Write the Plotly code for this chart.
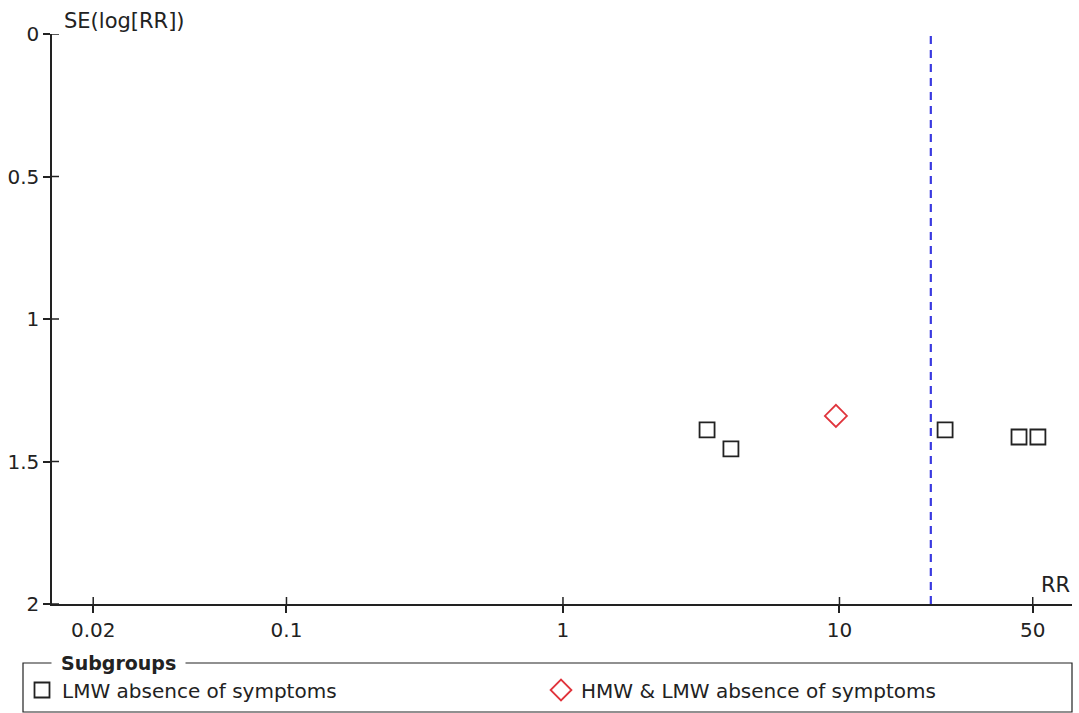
import plotly.graph_objects as go

# Funnel plot data: risk ratios and standard errors of log(RR)
lmw_rr = [3.32, 4.05, 24.1, 44.6, 52.2]
lmw_se = [1.389, 1.456, 1.389, 1.414, 1.414]
hmw_rr = [9.71]
hmw_se = [1.34]
pooled_rr = 21.4

x_ticks = [0.02, 0.1, 1, 10, 50]
x_tick_text = ["0.02", "0.1", "1", "10", "50"]
y_ticks = [0, 0.5, 1, 1.5, 2]
y_tick_text = ["0", "0.5", "1", "1.5", "2"]

FONT = "DejaVu Sans"
W, H = 1079, 713
ML, MR, MT, MB = 52, 7, 34, 109
PW, PH = W - ML - MR, H - MT - MB
TICK = 7

fig = go.Figure()

fig.add_trace(go.Scatter(
    x=lmw_rr, y=lmw_se, mode="markers", name="LMW absence of symptoms",
    marker=dict(symbol="square-open", size=15, color="#222222",
                line=dict(width=1.8, color="#222222")),
))
fig.add_trace(go.Scatter(
    x=hmw_rr, y=hmw_se, mode="markers", name="HMW & LMW absence of symptoms",
    marker=dict(symbol="diamond-open", size=17, color="#e0343c",
                line=dict(width=1.8, color="#e0343c")),
))

shapes = []
# pooled estimate line
shapes.append(dict(type="line", xref="x", yref="paper", x0=pooled_rr, x1=pooled_rr,
                   y0=0, y1=1, line=dict(color="#3a3ae0", width=2.2, dash="8px,6px")))
# inner halves of the crossing tick marks
for v in x_ticks:
    shapes.append(dict(type="line", xref="x", yref="paper", x0=v, x1=v,
                       y0=0, y1=TICK / PH, line=dict(color="#222222", width=1.5)))
for v in y_ticks:
    shapes.append(dict(type="line", xref="paper", yref="y", x0=0, x1=TICK / PW,
                       y0=v, y1=v, line=dict(color="#222222", width=1.5)))
# legend frame
lx0, lx1 = (23 - ML) / PW, (1072 - ML) / PW
ly0, ly1 = (604 - 712) / PH, (604 - 663) / PH
shapes.append(dict(type="rect", xref="paper", yref="paper", x0=lx0, x1=lx1,
                   y0=ly0, y1=ly1, line=dict(color="#222222", width=1.2)))

annotations = [
    dict(text="SE(log[RR])", xref="paper", yref="paper", x=(62 - ML) / PW,
         y=1 + (MT - 21) / PH, xanchor="left", yanchor="middle", showarrow=False,
         font=dict(family=FONT, size=21, color="#222222")),
    dict(text="RR", xref="paper", yref="paper", x=1.0, y=(604 - 585) / PH,
         xanchor="right", yanchor="middle", showarrow=False,
         font=dict(family=FONT, size=21, color="#222222")),
    dict(text="<b>Subgroups</b>", xref="paper", yref="paper", x=(51 - ML) / PW,
         y=ly1, xanchor="left", yanchor="middle", showarrow=False, bgcolor="white",
         borderpad=9, font=dict(family=FONT, size=19, color="#222222")),
]

fig.update_layout(
    width=W, height=H,
    margin=dict(l=ML, r=MR, t=MT, b=MB, pad=0, autoexpand=False),
    paper_bgcolor="white", plot_bgcolor="white",
    font=dict(family=FONT, size=20, color="#222222"),
    showlegend=True,
    legend=dict(orientation="h", x=(22 - ML) / PW, xanchor="left",
                y=(604 - 690) / PH, yanchor="middle",
                entrywidth=474, entrywidthmode="pixels",
                bgcolor="rgba(0,0,0,0)", borderwidth=0,
                font=dict(family=FONT, size=20, color="#222222")),
    xaxis=dict(type="log", range=[-1.848, 1.841], tickvals=x_ticks,
               ticktext=x_tick_text, ticks="outside", ticklen=TICK, tickwidth=1.5,
               tickcolor="#222222", showline=True, linecolor="#222222", linewidth=1.5,
               showgrid=False, zeroline=False),
    yaxis=dict(range=[2, 0], tickvals=y_ticks, ticktext=y_tick_text,
               ticks="outside", ticklen=TICK, tickwidth=1.5, tickcolor="#222222",
               showline=True, linecolor="#222222", linewidth=1.5,
               showgrid=False, zeroline=False),
    shapes=shapes,
    annotations=annotations,
)

fig.write_html("out.html")
